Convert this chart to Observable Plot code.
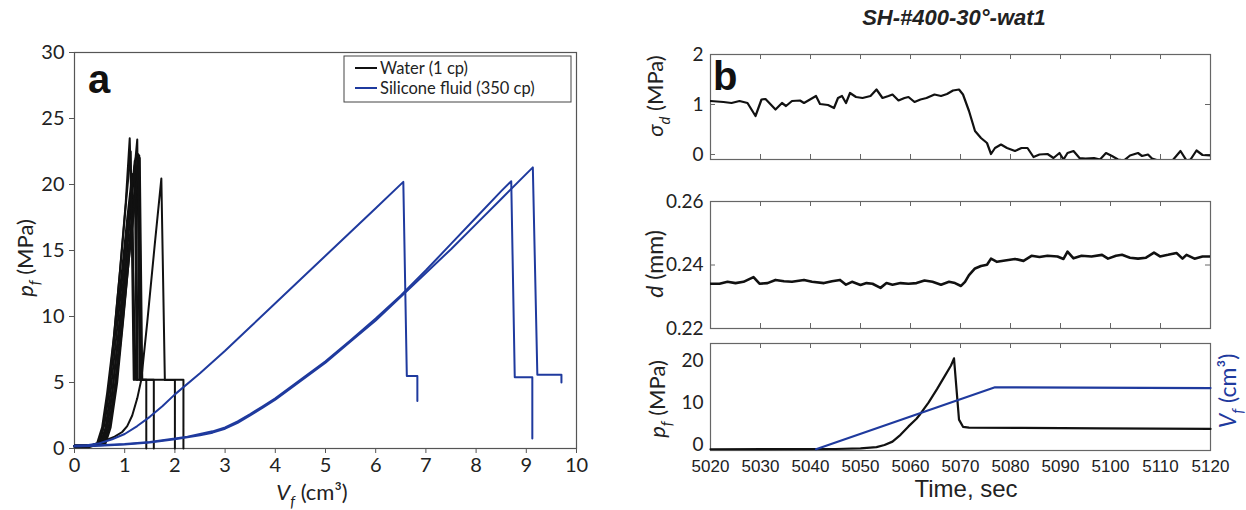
<!DOCTYPE html>
<html><head><meta charset="utf-8">
<script src="https://cdn.jsdelivr.net/npm/d3@7"></script>
<script src="https://cdn.jsdelivr.net/npm/@observablehq/plot@0.6"></script>
<style>
body{margin:0;background:#fff;}
#fig{position:relative;width:1246px;height:510px;overflow:hidden;background:#fff;}
#fig svg{position:absolute;}
</style></head><body><div id="fig"></div>
<script>
// ---------- Panel a data : [Vf (cm3), pf (MPa)] ----------
const water1 = [[0,0.2],[0.3,0.2],[0.45,0.4],[0.55,1.6],[0.65,4.2],[0.78,8.3],[0.9,13.2],[1.02,18.6],[1.1,23.5],[1.22,5.2],[1.43,5.2],[1.43,0]];
const water2 = [[0,0.15],[0.35,0.2],[0.55,0.4],[0.65,1.6],[0.75,4.1],[0.88,8.6],[1.0,13],[1.12,18],[1.25,23.4],[1.3,5.2],[2.17,5.2],[2.17,0]];
const water3 = [[0,0.2],[0.4,0.25],[0.6,0.4],[0.7,1.6],[0.82,4.6],[0.95,9.2],[1.08,14.2],[1.2,18.6],[1.29,22.2],[1.33,5.2],[1.58,5.2],[1.58,0]];
const water4 = [[0,0.2],[0.3,0.2],[0.5,0.4],[0.6,1.9],[0.7,4.6],[0.82,9.1],[0.95,13.6],[1.05,17.4],[1.15,20.8],[1.19,5.2]];
const water5 = [[0,0.2],[0.35,0.2],[0.52,0.4],[0.62,1.6],[0.72,4.3],[0.85,9.1],[0.98,14],[1.1,18.4],[1.22,22],[1.26,5.2]];
const water6 = [[0,0.2],[0.35,0.2],[0.58,0.4],[0.68,1.6],[0.8,4.6],[0.92,9.1],[1.05,14.1],[1.17,18.6],[1.27,22.3],[1.31,5.2]];
const water7 = [[0,0.2],[0.3,0.2],[0.55,0.4],[0.65,1.7],[0.76,4.5],[0.88,9],[1.0,13.8],[1.11,18.2],[1.2,21.8],[1.24,5.2]];
const water8 = [[0,0.2],[0.4,0.2],[0.62,0.4],[0.72,1.6],[0.85,5],[0.98,10.1],[1.1,15],[1.22,19.5],[1.3,22],[1.35,5.2]];
const water9 = [[0,0.1],[0.3,0.1],[0.45,0.3],[0.6,0.6],[0.8,0.9],[0.95,1.25],[1.05,1.7],[1.15,2.5],[1.25,3.8],[1.33,5.2],[1.45,9.6],[1.6,15.5],[1.73,20.45],[1.8,5.18],[2.0,5.18],[2.0,0]];
const water10 = [[0,0.2],[0.3,0.2],[0.48,0.4],[0.58,1.7],[0.68,4.4],[0.8,9],[0.92,14],[1.03,18.8],[1.12,22.5],[1.18,5.2]];
const silicone1 = [[0,0.2],[0.25,0.25],[0.5,0.4],[0.75,0.7],[1,1.1],[1.25,1.7],[1.5,2.4],[1.75,3.2],[2,4.1],[2.5,5.7],[3,7.4],[3.5,9.2],[4,11.0],[4.5,12.8],[5,14.6],[5.5,16.4],[6,18.2],[6.55,20.2],[6.62,5.5],[6.83,5.5],[6.83,3.6]];
const silicone2 = [[0,0.2],[0.5,0.25],[1,0.35],[1.5,0.5],[2,0.75],[2.25,0.9],[2.5,1.1],[2.75,1.3],[3,1.6],[3.25,2.05],[3.5,2.6],[3.75,3.2],[4,3.8],[4.5,5.2],[5,6.6],[5.5,8.2],[6,9.85],[6.5,11.6],[7,13.5],[7.5,15.5],[8,17.5],[8.5,19.5],[8.7,20.25],[8.77,5.4],[9.12,5.4],[9.12,0.75]];
const silicone3 = [[0,0.15],[0.5,0.2],[1,0.3],[1.5,0.45],[2,0.7],[2.25,0.85],[2.5,1.0],[2.75,1.2],[3,1.5],[3.25,1.95],[3.5,2.5],[3.75,3.1],[4,3.7],[4.5,5.1],[5,6.5],[5.5,8.1],[6,9.7],[6.5,11.5],[7,13.3],[7.5,15.1],[8,17],[8.5,18.9],[9.13,21.3],[9.22,5.58],[9.7,5.58],[9.7,5.0]];
const fluidNames = ["Water (1 cp)", "Silicone fluid (350 cp)"];
const fluidColors = ["#111111", "#1f3a9e"];
const xTicksA = [0,1,2,3,4,5,6,7,8,9,10];
const yTicksA = [0,5,10,15,20,25,30];

// ---------- Panel b data : [time (s), value] ----------
const sigmaD = [[5020,1.07],[5022.6,1.05],[5024.2,1.03],[5025.8,1.07],[5027.4,1.03],[5029,0.77],[5030.2,1.10],[5031,1.11],[5033,0.90],[5034.3,1.03],[5035.1,0.97],[5036.3,1.07],[5037.9,1.08],[5038.7,1.03],[5039.9,1.10],[5041.1,1.17],[5041.9,1.01],[5043.5,0.99],[5044.7,0.93],[5045.5,1.13],[5046.3,1.17],[5047.1,1.03],[5047.9,1.23],[5049.1,1.15],[5050.4,1.13],[5052,1.17],[5053.2,1.30],[5054.4,1.13],[5055.6,1.17],[5056.4,1.20],[5057.6,1.08],[5058.8,1.13],[5059.6,1.15],[5060.8,1.05],[5062,1.10],[5063.2,1.13],[5064.8,1.20],[5066.1,1.17],[5067.3,1.21],[5068.5,1.28],[5069.7,1.30],[5070.5,1.20],[5071.7,0.87],[5072.9,0.47],[5074.1,0.33],[5075.3,0.23],[5076.1,0.01],[5076.9,0.13],[5078.1,0.20],[5079.3,0.13],[5080.9,0.07],[5082.2,0.13],[5083.4,0.13],[5084.6,-0.05],[5085.8,0.00],[5087.4,0.01],[5088.6,-0.07],[5089.8,0.03],[5090.6,-0.10],[5091.4,0.03],[5092.6,0.07],[5093.8,-0.07],[5095,-0.08],[5096.7,-0.07],[5097.9,-0.10],[5099.1,0.03],[5100.3,-0.03],[5101.5,-0.10],[5102.7,-0.12],[5103.9,-0.02],[5105.5,0.03],[5106.3,-0.03],[5107.5,0.00],[5108.3,-0.08],[5109.5,-0.12],[5110.7,-0.12],[5112.3,-0.13],[5114,0.07],[5115.2,-0.12],[5116,-0.10],[5117.2,0.08],[5118.4,-0.01],[5120,-0.02]];
const aperture = [[5020,0.2341],[5021.8,0.2341],[5023.4,0.2347],[5025,0.2343],[5026.6,0.2347],[5028.6,0.2362],[5029.8,0.2341],[5031.4,0.2343],[5033,0.2353],[5034.7,0.2349],[5036.3,0.2347],[5038.7,0.2353],[5040.3,0.2347],[5042.7,0.2343],[5044.3,0.2349],[5045.9,0.2353],[5047.1,0.2338],[5048.3,0.2347],[5050,0.2337],[5051.2,0.2343],[5052.4,0.2341],[5054,0.2328],[5055.2,0.2343],[5056.4,0.2338],[5058,0.2343],[5059.6,0.2341],[5061.2,0.2343],[5062.8,0.2351],[5064.4,0.2347],[5066.1,0.2338],[5067.7,0.2347],[5068.9,0.2343],[5070.1,0.2334],[5070.9,0.2347],[5071.7,0.2368],[5072.9,0.2389],[5074.1,0.2397],[5075.3,0.2401],[5076.1,0.2420],[5077.3,0.2410],[5078.9,0.2414],[5080.9,0.2419],[5082.6,0.2413],[5084.2,0.2429],[5085.8,0.2425],[5087.4,0.2429],[5089.4,0.2427],[5090.6,0.2419],[5091.4,0.2442],[5092.6,0.2421],[5094.2,0.2429],[5096.2,0.2427],[5098.3,0.2432],[5099.5,0.2420],[5101.1,0.2429],[5102.3,0.2432],[5103.9,0.2423],[5105.5,0.2420],[5107.1,0.2423],[5108.7,0.2439],[5109.9,0.2427],[5111.5,0.2432],[5113.2,0.2438],[5114.4,0.2420],[5115.2,0.2432],[5116.8,0.2420],[5118.4,0.2427],[5120,0.2427]];
const pfTime = [[5020,0],[5045,0.05],[5050,0.2],[5053.2,0.5],[5054.8,1.0],[5056.4,1.8],[5058,3.4],[5059.6,5.4],[5061.2,7.2],[5062,8.4],[5063.6,11],[5065.3,14.2],[5066.9,17.4],[5068.1,19.8],[5068.7,21.5],[5069.7,7.0],[5070.5,5.3],[5071.7,5.1],[5082.2,5.05],[5098.3,4.95],[5120,4.8]];
const vfTime = [[5041.1,0],[5076.9,1.5],[5120,1.48]];
const timeTicks = [5020,5030,5040,5050,5060,5070,5080,5090,5100,5110,5120];
const sigmaTicks = [0,1,2];
const apertureTicks = [0.22,0.24,0.26];
const pfTicks = [0,10,20];
const panelTitle = "SH-#400-30°-wat1";

// ---------- helpers ----------
const fig = document.getElementById("fig");
function place(svg, left, top){ svg.style.left = left+"px"; svg.style.top = top+"px"; fig.appendChild(svg); return svg; }
function addText(svg, o, parts){
  const t = d3.select(svg).append("text")
    .attr("transform", `translate(${o.x},${o.y}) rotate(${o.rotate||0})`)
    .attr("text-anchor", o.anchor||"middle")
    .attr("font-family", o.family||"Lato, sans-serif")
    .attr("font-size", o.size)
    .attr("font-weight", o.weight||"normal")
    .attr("font-style", o.style||"normal")
    .attr("fill", o.fill||"#222");
  let shift = 0;
  for (const [s, kind] of parts){
    const ts = t.append("tspan").text(s);
    const target = kind==="sub" ? o.size*0.3 : 0;
    if (target !== shift){ ts.attr("dy", target - shift); shift = target; }
    if (kind==="sub") ts.attr("font-size", o.size*0.68).attr("font-style","italic");
    if (kind==="it") ts.attr("font-style","italic");
  }
  return t;
}
const baseStyle = {fontFamily:"Lato, sans-serif", fontSize:"19px", color:"#222", background:"transparent", overflow:"visible"};

// ---------- Panel a ----------
const rowsA = [];
[water1,water2,water3,water4,water5,water6,water7,water8,water9,water10].forEach((c,i)=>c.forEach(([v,p])=>rowsA.push({fluid:fluidNames[0], id:"w"+i, v, p})));
[silicone1,silicone2,silicone3].forEach((c,i)=>c.forEach(([v,p])=>rowsA.push({fluid:fluidNames[1], id:"s"+i, v, p})));

const plotA = Plot.plot({
  width:620, height:510, marginLeft:74, marginRight:44, marginTop:52, marginBottom:62,
  style: baseStyle,
  x:{domain:[0,10]}, y:{domain:[0,30]},
  color:{domain:fluidNames, range:fluidColors},
  marks:[
    Plot.frame({stroke:"#555", strokeWidth:1.2}),
    Plot.axisX({ticks:xTicksA, tickSize:5, tickPadding:4, label:null, stroke:"#555", fontSize:20}),
    Plot.axisY({ticks:yTicksA, tickSize:5, tickPadding:5, label:null, stroke:"#555", fontSize:20}),
    Plot.line(rowsA, {x:"v", y:"p", z:"id", stroke:"fluid", strokeWidth:2})
  ]
});
place(plotA, 0, 0);
addText(plotA, {x:88, y:93, size:40, weight:"bold", anchor:"start", family:"Liberation Sans, Arial, sans-serif", fill:"#111"}, [["a"]]);
addText(plotA, {x:312, y:500, size:22}, [["V","it"],["f","sub"],[" (cm³)"]]);
addText(plotA, {x:33, y:258, size:22, rotate:-90}, [["p","it"],["f","sub"],[" (MPa)"]]);
// legend
const lg = d3.select(plotA).append("g").attr("text-anchor","start");
lg.append("rect").attr("x",344).attr("y",56).attr("width",227).attr("height",46).attr("fill","white").attr("stroke","#444").attr("stroke-width",1);
fluidNames.forEach((n,i)=>{
  const yy = 68 + i*20;
  lg.append("line").attr("x1",355).attr("x2",377).attr("y1",yy).attr("y2",yy).attr("stroke",fluidColors[i]).attr("stroke-width",2);
  lg.append("text").attr("x",380).attr("y",yy+6).attr("text-anchor","start").attr("font-family","Lato, sans-serif").attr("font-size",16.5).attr("fill","#222").text(n);
});

// ---------- Panel b1 : sigma_d ----------
function timePanel(opts){
  const fw = 500, fh = opts.height - opts.mt - opts.mb;
  return Plot.plot({
    width:626, height:opts.height, marginLeft:90, marginRight:36, marginTop:opts.mt, marginBottom:opts.mb,
    style: baseStyle,
    x:{domain:[5020,5120], axis:null}, y:{domain:opts.ydomain},
    marks:[
      Plot.frame({stroke:"#666", strokeWidth:1.2}),
      Plot.tickX(timeTicks, {x:d=>d, insetTop:fh-5, stroke:"#666"}),
      Plot.tickX(timeTicks, {x:d=>d, insetBottom:fh-5, stroke:"#666"}),
      Plot.tickY(opts.yticks, {y:d=>d, insetRight:fw-5, stroke:"#666"}),
      Plot.tickY(opts.yticks, {y:d=>d, insetLeft:fw-5, stroke:"#666"}),
      Plot.axisY({ticks:opts.yticks, tickSize:0, tickPadding:7, label:null, tickFormat:opts.fmt}),
      Plot.line(opts.data, {x:d=>d[0], y:d=>d[1], stroke:"#111", strokeWidth:opts.sw||2.2, clip:true})
    ]
  });
}
const plotB1 = timePanel({height:180, mt:54, mb:21, ydomain:[-0.1,2], yticks:sigmaTicks, data:sigmaD, fmt:d=>String(d)});
place(plotB1, 620, 0);
addText(plotB1, {x:93, y:90, size:40, weight:"bold", anchor:"start", family:"Liberation Sans, Arial, sans-serif", fill:"#111"}, [["b"]]);
addText(plotB1, {x:334, y:25, size:22, weight:"bold", style:"italic", family:"Liberation Sans, Arial, sans-serif", fill:"#222"}, [[panelTitle]]);
addText(plotB1, {x:43, y:96, size:22, rotate:-90}, [["σ","it"],["d","sub"],[" (MPa)"]]);

// ---------- Panel b2 : aperture ----------
const plotB2 = timePanel({height:160, mt:21, mb:12, ydomain:[0.22,0.26], yticks:apertureTicks, data:aperture, fmt:d=>d.toFixed(2), sw:2.6});
place(plotB2, 620, 180);
addText(plotB2, {x:43, y:84, size:23, rotate:-90}, [["d","it"],[" (mm)"]]);

// ---------- Panel b3 : pf and Vf vs time ----------
const plotB3 = Plot.plot({
  width:626, height:180, marginLeft:90, marginRight:36, marginTop:13, marginBottom:60,
  style: baseStyle,
  x:{domain:[5020,5120]}, y:{domain:[-0.3,25]},
  marks:[
    Plot.frame({stroke:"#666", strokeWidth:1.2}),
    Plot.tickX(timeTicks, {x:d=>d, insetBottom:102, stroke:"#666"}),
    Plot.axisX({ticks:timeTicks, tickSize:0, tickPadding:9, label:null, tickFormat:d=>String(d), fontFamily:"Liberation Sans, Arial, sans-serif", fontSize:17}),
    Plot.axisY({ticks:pfTicks, tickSize:0, tickPadding:7, dy:-4, label:null}),
    Plot.line(pfTime, {x:d=>d[0], y:d=>d[1], stroke:"#111", strokeWidth:2.2})
  ]
});
place(plotB3, 620, 330);
const plotB3v = Plot.plot({
  width:626, height:180, marginLeft:90, marginRight:36, marginTop:13, marginBottom:60,
  style: baseStyle,
  x:{domain:[5020,5120], axis:null}, y:{domain:[-0.03,2.56], axis:null},
  marks:[
    Plot.line(vfTime, {x:d=>d[0], y:d=>d[1], stroke:fluidColors[1], strokeWidth:2.2})
  ]
});
place(plotB3v, 620, 330);
addText(plotB3, {x:45, y:69, size:22, rotate:-90}, [["p","it"],["f","sub"],[" (MPa)"]]);
addText(plotB3v, {x:616, y:61, size:23, rotate:-90, fill:fluidColors[1]}, [["V","it"],["f","sub"],[" (cm³)"]]);
addText(plotB3, {x:346, y:167, size:24, family:"Liberation Sans, Arial, sans-serif", fill:"#222"}, [["Time, sec"]]);
</script></body></html>
